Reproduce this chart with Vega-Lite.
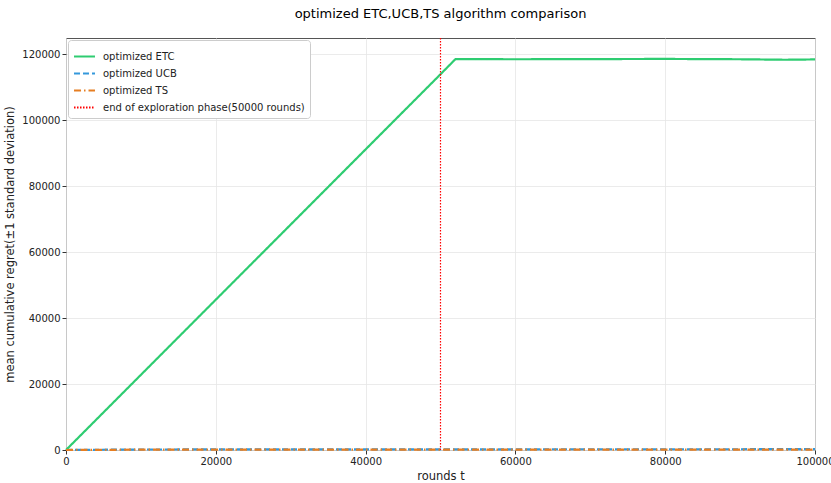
{
  "$schema": "https://vega.github.io/schema/vega-lite/v6.json",
  "width": 749,
  "height": 412,
  "autosize": {"type": "none"},
  "padding": {"left": 66, "top": 38, "right": 16, "bottom": 33},
  "background": "white",
  "title": {"text": "optimized ETC,UCB,TS algorithm comparison", "font": "DejaVu Sans", "fontSize": 13, "fontWeight": "normal", "color": "#000", "offset": 16, "anchor": "middle"},
  "config": {
    "font": "DejaVu Sans",
    "view": {"stroke": "#555", "strokeWidth": 1},
    "axis": {"labelFont": "DejaVu Sans", "titleFont": "DejaVu Sans", "labelFontSize": 10, "titleFontSize": 11.5, "titleFontWeight": "normal", "labelColor": "#222", "titleColor": "#222", "gridColor": "#e6e6e6", "gridWidth": 0.8, "tickColor": "#333", "tickSize": 4, "domain": false}
  },
  "datasets": {
    "lines": [
      {"t": 0, "regret": 0, "series": "optimized ETC"},
      {"t": 50000, "regret": 114000, "series": "optimized ETC"},
      {"t": 52000, "regret": 118600, "series": "optimized ETC"},
      {"t": 60000, "regret": 118550, "series": "optimized ETC"},
      {"t": 70000, "regret": 118600, "series": "optimized ETC"},
      {"t": 80000, "regret": 118650, "series": "optimized ETC"},
      {"t": 90000, "regret": 118550, "series": "optimized ETC"},
      {"t": 96000, "regret": 118400, "series": "optimized ETC"},
      {"t": 100000, "regret": 118500, "series": "optimized ETC"},
      {"t": 0, "regret": 0, "series": "optimized UCB"},
      {"t": 10000, "regret": 150, "series": "optimized UCB"},
      {"t": 30000, "regret": 190, "series": "optimized UCB"},
      {"t": 50000, "regret": 210, "series": "optimized UCB"},
      {"t": 70000, "regret": 225, "series": "optimized UCB"},
      {"t": 100000, "regret": 240, "series": "optimized UCB"},
      {"t": 0, "regret": 0, "series": "optimized TS"},
      {"t": 10000, "regret": 100, "series": "optimized TS"},
      {"t": 30000, "regret": 120, "series": "optimized TS"},
      {"t": 50000, "regret": 130, "series": "optimized TS"},
      {"t": 70000, "regret": 135, "series": "optimized TS"},
      {"t": 100000, "regret": 140, "series": "optimized TS"}
    ],
    "marker": [
      {"t": 50000, "series": "end of exploration phase(50000 rounds)"}
    ]
  },
  "layer": [
    {
      "data": {"name": "lines"},
      "mark": {"type": "line", "strokeWidth": 2.2},
      "encoding": {
        "x": {"field": "t", "type": "quantitative", "title": "rounds t", "scale": {"domain": [0, 100000], "nice": false}, "axis": {"values": [0, 20000, 40000, 60000, 80000, 100000], "format": "d", "titlePadding": 4, "labelFlush": false}},
        "y": {"field": "regret", "type": "quantitative", "title": "mean cumulative regret(±1 standard deviation)", "scale": {"domain": [0, 125000], "nice": false}, "axis": {"values": [0, 20000, 40000, 60000, 80000, 100000, 120000], "format": "d", "titlePadding": 6}},
        "color": {"field": "series", "type": "nominal", "scale": {"domain": ["optimized ETC", "optimized UCB", "optimized TS", "end of exploration phase(50000 rounds)"], "range": ["#2ecc71", "#3498db", "#e67e22", "#ff0000"]}, "legend": {"title": null, "orient": "none", "legendX": 2, "legendY": 2, "symbolType": "stroke", "symbolSize": 440, "symbolStrokeWidth": 2, "labelFontSize": 10, "labelFont": "DejaVu Sans", "labelColor": "#222", "labelLimit": 400, "labelOffset": 7, "rowPadding": -5, "padding": 5, "strokeColor": "#cccccc", "fillColor": "white", "cornerRadius": 3}},
        "strokeDash": {"field": "series", "type": "nominal", "scale": {"domain": ["optimized ETC", "optimized UCB", "optimized TS", "end of exploration phase(50000 rounds)"], "range": [[1, 0], [6, 3], [7, 3, 1.5, 3], [1.5, 1.5]]}, "legend": {"title": null}},
        "order": {"field": "t", "type": "quantitative"}
      }
    },
    {
      "data": {"name": "marker"},
      "mark": {"type": "rule", "strokeWidth": 1.2},
      "encoding": {
        "x": {"field": "t", "type": "quantitative"},
        "color": {"field": "series", "type": "nominal"},
        "strokeDash": {"field": "series", "type": "nominal"}
      }
    }
  ],
  "resolve": {"scale": {"color": "shared", "strokeDash": "shared"}}
}
